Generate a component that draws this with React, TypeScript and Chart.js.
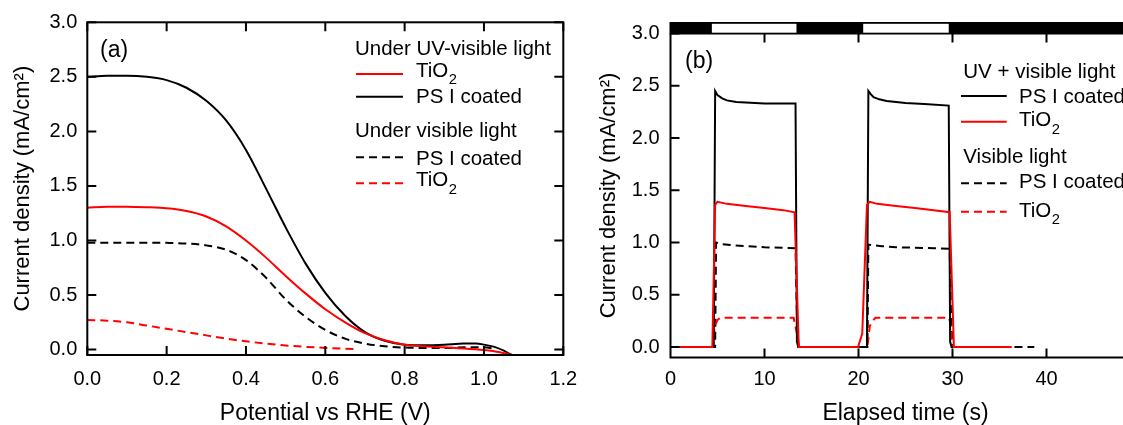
import React, { useEffect, useRef } from "react";
import { Chart, registerables } from "chart.js";

Chart.register(...registerables);

const FONT = "'Liberation Sans', Arial, Helvetica, sans-serif";
const RED = "#ff0000";
const BLACK = "#000000";

// ---------------- Panel (a): current density vs potential ----------------
const potUvPsi = [0, 0.05, 0.1, 0.15, 0.2, 0.25, 0.3, 0.35, 0.4, 0.45, 0.5, 0.55, 0.6, 0.65, 0.7, 0.75, 0.8, 0.85, 0.9, 0.95, 0.98, 1.0, 1.03, 1.05, 1.07];
const curUvPsi = [2.5, 2.51, 2.51, 2.5, 2.47, 2.4, 2.28, 2.1, 1.83, 1.48, 1.12, 0.79, 0.52, 0.31, 0.16, 0.08, 0.045, 0.04, 0.045, 0.055, 0.055, 0.045, 0.02, -0.01, -0.05];

const potUvTio2 = [0, 0.05, 0.1, 0.15, 0.2, 0.25, 0.3, 0.35, 0.4, 0.45, 0.5, 0.55, 0.6, 0.65, 0.7, 0.75, 0.8, 0.85, 0.9, 0.95, 1.0, 1.04, 1.07];
const curUvTio2 = [1.3, 1.31, 1.31, 1.305, 1.295, 1.27, 1.22, 1.13, 1.0, 0.845, 0.675, 0.515, 0.37, 0.25, 0.15, 0.085, 0.045, 0.03, 0.02, 0.01, -0.005, -0.025, -0.05];

const potVisPsi = [0, 0.05, 0.1, 0.15, 0.2, 0.25, 0.3, 0.35, 0.4, 0.45, 0.5, 0.55, 0.6, 0.65, 0.7, 0.75, 0.8, 0.85, 0.9, 0.95, 1.0, 1.03];
const curVisPsi = [0.98, 0.98, 0.98, 0.98, 0.978, 0.972, 0.955, 0.915, 0.82, 0.66, 0.46, 0.3, 0.18, 0.1, 0.055, 0.03, 0.018, 0.015, 0.015, 0.02, 0.02, 0.005];

const potVisTio2 = [0, 0.05, 0.1, 0.15, 0.2, 0.25, 0.3, 0.35, 0.4, 0.45, 0.5, 0.55, 0.6, 0.65, 0.68];
const curVisTio2 = [0.27, 0.265, 0.25, 0.22, 0.19, 0.16, 0.13, 0.1, 0.075, 0.055, 0.038, 0.025, 0.015, 0.007, 0.003];

const aXTicks = [0, 0.2, 0.4, 0.6, 0.8, 1.0, 1.2];
const aYTicks = [0, 0.5, 1.0, 1.5, 2.0, 2.5, 3.0];
const aXTitle = "Potential vs RHE (V)";
const yTitle = "Current density (mA/cm\u00B2)";
const aPanelLabel = "(a)";
const aLegendHeaders = ["Under UV-visible light", "Under visible light"];
const aLegendLabels = ["TiO_2", "PS I coated", "PS I coated", "TiO_2"];

// ---------------- Panel (b): current density vs elapsed time ----------------
const timeUvPsi = [0, 4.6, 4.75, 5.0, 5.5, 6.0, 7.0, 8.0, 10.0, 12.0, 13.3, 13.45, 13.6, 17.0, 20.9, 21.05, 21.3, 21.6, 22.2, 23.0, 25.0, 27.0, 29.6, 29.75, 29.9, 33.0, 36.0];
const curUvPsiT = [0, 0, 2.45, 2.41, 2.38, 2.36, 2.345, 2.34, 2.33, 2.33, 2.33, 0.05, 0, 0, 0, 2.45, 2.42, 2.39, 2.37, 2.355, 2.335, 2.325, 2.31, 0.05, 0, 0, 0];

const timeUvTio2 = [0, 4.45, 4.75, 5.0, 6.0, 8.0, 10.0, 12.0, 13.2, 13.65, 17.0, 19.95, 20.4, 20.9, 21.2, 22.0, 24.0, 26.0, 28.0, 29.7, 30.15, 33.0, 36.3];
const curUvTio2T = [0, 0, 1.36, 1.39, 1.37, 1.35, 1.33, 1.31, 1.29, 0, 0, 0, 0.13, 1.36, 1.39, 1.37, 1.35, 1.33, 1.31, 1.29, 0, 0, 0];

const timeVisPsi = [0, 4.75, 4.85, 5.5, 6.5, 8.0, 10.0, 12.0, 13.3, 13.45, 13.6, 17.0, 20.95, 21.05, 21.5, 22.5, 24.0, 26.0, 28.0, 29.7, 29.85, 30.0, 33.0, 36.0, 38.7];
const curVisPsiT = [0, 0, 1.0, 0.985, 0.975, 0.965, 0.955, 0.95, 0.945, 0.3, 0, 0, 0, 0.98, 0.975, 0.965, 0.955, 0.95, 0.945, 0.94, 0.3, 0, 0, 0, 0];

const timeVisTio2 = [0, 4.5, 4.7, 5.0, 5.3, 6.0, 8.0, 10.0, 12.0, 13.1, 13.4, 13.7, 17.0, 20.95, 21.2, 21.5, 21.8, 23.0, 25.0, 27.0, 29.65, 29.8, 30.0, 33.0, 36.0];
const curVisTio2T = [0, 0, 0.2, 0.26, 0.28, 0.28, 0.28, 0.28, 0.28, 0.28, 0.15, 0, 0, 0, 0.2, 0.25, 0.28, 0.28, 0.28, 0.28, 0.28, 0.2, 0, 0, 0];

const lightOnStart = [4.4, 20.5];
const lightOnEnd = [13.4, 29.6];

const bXTicks = [0, 10, 20, 30, 40];
const bYTicks = [0, 0.5, 1.0, 1.5, 2.0, 2.5, 3.0];
const bXTitle = "Elapsed time (s)";
const bPanelLabel = "(b)";
const bLegendHeaders = ["UV + visible light", "Visible light"];
const bLegendLabels = ["PS I coated", "TiO_2", "PS I coated", "TiO_2"];

// ---------------- helpers ----------------
const zip = (xs: number[], ys: number[]) => xs.map((x, i) => ({ x, y: ys[i] }));
const TICK = 9;
const LEG_FONT = 20.5;

function drawRichText(ctx: CanvasRenderingContext2D, text: string, x: number, base: number, size: number) {
  const [main, sub] = text.split("_");
  ctx.font = `${size}px ${FONT}`;
  ctx.textAlign = "left";
  ctx.textBaseline = "alphabetic";
  ctx.fillStyle = BLACK;
  ctx.fillText(main, x, base);
  if (sub) {
    const w = ctx.measureText(main).width;
    ctx.font = `${size * 0.72}px ${FONT}`;
    ctx.fillText(sub, x + w + 0.5, base + 7.5);
  }
}

type LegendLayout = {
  headers: { x: number; y: number }[];
  x1: number;
  x2: number;
  textX: number;
  rows: { ds: number; lineY: number; base: number }[];
};

function drawLegend(chart: any, headers: string[], labels: string[], lay: LegendLayout) {
  const ctx: CanvasRenderingContext2D = chart.ctx;
  headers.forEach((h, i) => drawRichText(ctx, h, lay.headers[i].x, lay.headers[i].y, LEG_FONT));
  lay.rows.forEach((r, i) => {
    const ds = chart.data.datasets[r.ds];
    ctx.save();
    ctx.strokeStyle = ds.borderColor;
    ctx.lineWidth = 2;
    ctx.setLineDash(ds.borderDash || []);
    ctx.beginPath();
    ctx.moveTo(lay.x1, r.lineY);
    ctx.lineTo(lay.x2, r.lineY);
    ctx.stroke();
    ctx.restore();
    drawRichText(ctx, labels[i], lay.textX, r.base, LEG_FONT);
  });
}

const baseDataset = {
  borderWidth: 2,
  pointRadius: 0,
  fill: false,
};

function axisCommon(title: string, size: number, isY: boolean, titlePad: any, tickPad: number, fit: number, ticksArr: number[], fmt: (v: number) => string) {
  return {
    type: "linear",
    grid: { display: false, drawTicks: false },
    border: { display: false },
    afterBuildTicks: (s: any) => {
      s.ticks = ticksArr.map((v) => ({ value: v }));
    },
    afterFit: (s: any) => {
      if (isY) s.width = fit;
      else s.height = fit;
    },
    ticks: {
      padding: tickPad,
      autoSkip: false,
      maxRotation: 0,
      color: BLACK,
      font: { size: 20, family: FONT },
      callback: (v: any) => fmt(Number(v)),
    },
    title: {
      display: true,
      text: title,
      color: BLACK,
      font: { size, family: FONT, lineHeight: 1 },
      padding: titlePad,
    },
  };
}

function configA(): any {
  const legendLay: LegendLayout = {
    headers: [
      { x: 355, y: 55 },
      { x: 355, y: 137.3 },
    ],
    x1: 356,
    x2: 403,
    textX: 416,
    rows: [
      { ds: 0, lineY: 74, base: 76.7 },
      { ds: 1, lineY: 96.7, base: 103.3 },
      { ds: 2, lineY: 157.3, base: 165 },
      { ds: 3, lineY: 183.3, base: 186 },
    ],
  };
  const deco = {
    id: "decoA",
    afterDraw(chart: any) {
      const { ctx, chartArea: a, scales } = chart;
      const xs = scales.x;
      const ys = scales.y;
      ctx.save();
      ctx.strokeStyle = BLACK;
      ctx.lineWidth = 2;
      ctx.setLineDash([]);
      ctx.strokeRect(a.left, a.top, a.right - a.left, a.bottom - a.top);
      ctx.beginPath();
      aXTicks.forEach((v) => {
        const p = xs.getPixelForValue(v);
        ctx.moveTo(p, a.bottom);
        ctx.lineTo(p, a.bottom - TICK);
        ctx.moveTo(p, a.top);
        ctx.lineTo(p, a.top + TICK);
      });
      aYTicks.forEach((v) => {
        const p = ys.getPixelForValue(v);
        ctx.moveTo(a.left, p);
        ctx.lineTo(a.left + TICK, p);
        ctx.moveTo(a.right, p);
        ctx.lineTo(a.right - TICK, p);
      });
      ctx.stroke();
      ctx.font = `23px ${FONT}`;
      ctx.fillStyle = BLACK;
      ctx.textAlign = "left";
      ctx.textBaseline = "middle";
      ctx.fillText(aPanelLabel, a.left + 12.7, 50.7);
      drawLegend(chart, aLegendHeaders, aLegendLabels, legendLay);
      ctx.restore();
    },
  };
  return {
    type: "line",
    data: {
      datasets: [
        { ...baseDataset, label: "TiO2 UV", data: zip(potUvTio2, curUvTio2), borderColor: RED, cubicInterpolationMode: "monotone" },
        { ...baseDataset, label: "PSI UV", data: zip(potUvPsi, curUvPsi), borderColor: BLACK, cubicInterpolationMode: "monotone" },
        { ...baseDataset, label: "PSI vis", data: zip(potVisPsi, curVisPsi), borderColor: BLACK, borderDash: [8, 5], cubicInterpolationMode: "monotone" },
        { ...baseDataset, label: "TiO2 vis", data: zip(potVisTio2, curVisTio2), borderColor: RED, borderDash: [8, 5], cubicInterpolationMode: "monotone" },
      ],
    },
    options: {
      responsive: false,
      animation: false,
      devicePixelRatio: 1,
      layout: { padding: { top: 22.3, right: 26.7, bottom: 0, left: 0 } },
      plugins: { legend: { display: false }, tooltip: { enabled: false } },
      scales: {
        x: { ...axisCommon(aXTitle, 23, false, { top: 0, bottom: 0 }, 12, 70, aXTicks, (v) => v.toFixed(1)), min: 0, max: 1.2 },
        y: { ...axisCommon(yTitle, 22, true, { top: 12, bottom: 0 }, 10, 87.3, aYTicks, (v) => v.toFixed(1)), min: -0.05, max: 3.0 },
      },
    },
    plugins: [deco],
  };
}

function configB(): any {
  const off = 590;
  const legendLay: LegendLayout = {
    headers: [
      { x: 963.3 - off, y: 78.3 },
      { x: 963.3 - off, y: 163.3 },
    ],
    x1: 961 - off,
    x2: 1006.7 - off,
    textX: 1019 - off,
    rows: [
      { ds: 1, lineY: 96, base: 102.7 },
      { ds: 0, lineY: 121.7, base: 126 },
      { ds: 3, lineY: 183.3, base: 188.3 },
      { ds: 2, lineY: 211.7, base: 216.7 },
    ],
  };
  const deco = {
    id: "decoB",
    afterDraw(chart: any) {
      const { ctx, chartArea: a, scales } = chart;
      const xs = scales.x;
      const ys = scales.y;
      ctx.save();
      // light on/off bar above the plot
      const barTop = a.top - 11.5;
      const barBot = a.top + 1;
      ctx.fillStyle = BLACK;
      ctx.fillRect(a.left - 1, barTop, a.right - a.left + 2, barBot - barTop);
      ctx.fillStyle = "#ffffff";
      lightOnStart.forEach((s, i) => {
        const p1 = xs.getPixelForValue(s);
        const p2 = xs.getPixelForValue(lightOnEnd[i]);
        ctx.fillRect(p1, barTop + 1.8, p2 - p1, barBot - barTop - 3.6);
      });
      ctx.strokeStyle = BLACK;
      ctx.lineWidth = 2;
      ctx.setLineDash([]);
      ctx.beginPath();
      ctx.moveTo(a.left, a.top);
      ctx.lineTo(a.left, a.bottom);
      ctx.lineTo(a.right, a.bottom);
      bXTicks.forEach((v) => {
        const p = xs.getPixelForValue(v);
        ctx.moveTo(p, a.bottom);
        ctx.lineTo(p, a.bottom - TICK);
        ctx.moveTo(p, a.top);
        ctx.lineTo(p, a.top + TICK);
      });
      bYTicks.forEach((v) => {
        const p = ys.getPixelForValue(v);
        ctx.moveTo(a.left, p);
        ctx.lineTo(a.left + TICK, p);
      });
      ctx.stroke();
      ctx.font = `23px ${FONT}`;
      ctx.fillStyle = BLACK;
      ctx.textAlign = "left";
      ctx.textBaseline = "middle";
      ctx.fillText(bPanelLabel, a.left + 14.5, 61.7);
      drawLegend(chart, bLegendHeaders, bLegendLabels, legendLay);
      ctx.restore();
    },
  };
  return {
    type: "line",
    data: {
      datasets: [
        { ...baseDataset, label: "TiO2 UV", data: zip(timeUvTio2, curUvTio2T), borderColor: RED, tension: 0 },
        { ...baseDataset, label: "PSI UV", data: zip(timeUvPsi, curUvPsiT), borderColor: BLACK, tension: 0 },
        { ...baseDataset, label: "TiO2 vis", data: zip(timeVisTio2, curVisTio2T), borderColor: RED, borderDash: [8, 5], tension: 0 },
        { ...baseDataset, label: "PSI vis", data: zip(timeVisPsi, curVisPsiT), borderColor: BLACK, borderDash: [8, 5], tension: 0 },
      ],
    },
    options: {
      responsive: false,
      animation: false,
      devicePixelRatio: 1,
      layout: { padding: { top: 33.5, right: 9.5, bottom: 0, left: 0 } },
      plugins: { legend: { display: false }, tooltip: { enabled: false } },
      scales: {
        x: { ...axisCommon(bXTitle, 23, false, { top: 0, bottom: 0 }, 10, 67.5, bXTicks, (v) => String(v)), min: 0, max: 50 },
        y: { ...axisCommon(yTitle, 22, true, { top: 7.5, bottom: 0 }, 11, 80.5, bYTicks, (v) => v.toFixed(1)), min: -0.1, max: 3.0 },
      },
    },
    plugins: [deco],
  };
}

function ChartCanvas({ make, width, height, left }: { make: () => any; width: number; height: number; left: number }) {
  const ref = useRef<HTMLCanvasElement>(null);
  useEffect(() => {
    if (!ref.current) return;
    const chart = new Chart(ref.current, make());
    return () => chart.destroy();
  }, []);
  return (
    <canvas
      ref={ref}
      width={width}
      height={height}
      style={{ position: "absolute", left, top: 0, width, height, display: "block" }}
    />
  );
}

export default function App() {
  return (
    <div
      style={{
        position: "absolute",
        left: 0,
        top: 0,
        width: 1123,
        height: 425,
        overflow: "hidden",
        background: "#ffffff",
      }}
    >
      <ChartCanvas make={configA} width={590} height={425} left={0} />
      <ChartCanvas make={configB} width={560} height={425} left={590} />
    </div>
  );
}
